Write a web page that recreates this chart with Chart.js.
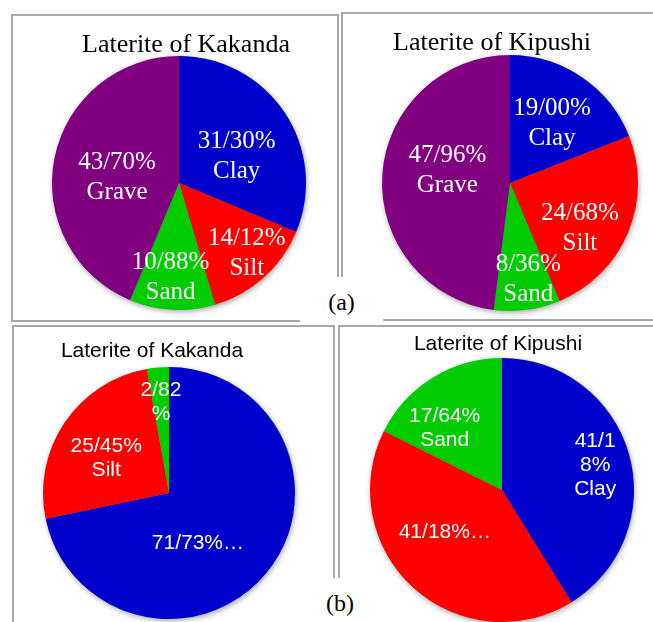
<!DOCTYPE html>
<html>
<head>
<meta charset="utf-8">
<script src="https://cdn.jsdelivr.net/npm/chart.js@4"></script>
<style>
  html, body { margin: 0; padding: 0; background: #fff; }
  body { width: 653px; height: 622px; position: relative; overflow: hidden; }
  .box { position: absolute; box-sizing: border-box; border: 2px solid #a8a8a8; }
  .tag { position: absolute; background: #fff; font-family: "Liberation Serif", serif; font-size: 24px; line-height: 24px; text-align: center; }
  .title { position: absolute; white-space: nowrap; transform: translateX(-50%); color: #000; }
  .serif { font-family: "Liberation Serif", serif; font-size: 26px; line-height: 26px; }
  .sans { font-family: "Liberation Sans", Arial, sans-serif; font-size: 21px; line-height: 21px; }
  canvas { position: absolute; }
</style>
</head>
<body>
<div class="box" style="left:11px;top:14px;width:328px;height:308px"></div>
<div class="box" style="left:341px;top:12px;width:330px;height:309px"></div>
<div class="tag" style="left:300px;top:277px;width:83px;height:46px;line-height:50px">(a)</div>
<div class="box" style="left:12px;top:325px;width:323px;height:310px"></div>
<div class="box" style="left:338px;top:325px;width:330px;height:310px"></div>
<div class="tag" style="left:300px;top:578px;width:80px;height:44px;line-height:50px">(b)</div>

<canvas id="kakandaA"></canvas>
<canvas id="kipushiA"></canvas>
<canvas id="kakandaB"></canvas>
<canvas id="kipushiB"></canvas>

<div class="title serif" style="left:186px;top:31px">Laterite of Kakanda</div>
<div class="title serif" style="left:492px;top:29px">Laterite of Kipushi</div>
<div class="title sans" style="left:152px;top:339px">Laterite of Kakanda</div>
<div class="title sans" style="left:498px;top:332px">Laterite of Kipushi</div>

<script>
// (a) fractions, clockwise from 12 o'clock
const categoriesA = ['Clay', 'Silt', 'Sand', 'Grave'];
const kakandaA = [31.30, 14.12, 10.88, 43.70];
const kipushiA = [19.00, 24.68, 8.36, 47.96];
const kakandaALabels = [['31/30%', 'Clay'], ['14/12%', 'Silt'], ['10/88%', 'Sand'], ['43/70%', 'Grave']];
const kipushiALabels = [['19/00%', 'Clay'], ['24/68%', 'Silt'], ['8/36%', 'Sand'], ['47/96%', 'Grave']];

// (b) fractions
const categoriesB = ['Clay', 'Silt', 'Sand'];
const kakandaB = [71.73, 25.45, 2.82];
const kipushiB = [41.18, 41.18, 17.64];
const kakandaBLabels = [['71/73%…'], ['25/45%', 'Silt'], ['2/82', '%']];
const kipushiBLabels = [['41/1', '8%', 'Clay'], ['41/18%…'], ['17/64%', 'Sand']];

const colorsA = ['#0000cc', '#ff0000', '#00cc00', '#800080'];
const colorsB = ['#0000cc', '#ff0000', '#00cc00'];

// shadow under the whole pie
const pieShadow = {
  id: 'pieShadow',
  beforeDatasetsDraw(chart) {
    const arc = chart.getDatasetMeta(0).data[0];
    if (!arc) return;
    const ctx = chart.ctx;
    ctx.save();
    ctx.shadowColor = 'rgba(0,0,0,0.45)';
    ctx.shadowBlur = 6;
    ctx.shadowOffsetX = 1;
    ctx.shadowOffsetY = 2;
    ctx.fillStyle = '#888';
    ctx.beginPath();
    ctx.arc(arc.x, arc.y, arc.outerRadius - 1, 0, Math.PI * 2);
    ctx.fill();
    ctx.restore();
  }
};

// white slice labels, placed along each slice's mid angle
const sliceLabels = {
  id: 'sliceLabels',
  afterDatasetsDraw(chart, args, opts) {
    const ctx = chart.ctx;
    const arcs = chart.getDatasetMeta(0).data;
    ctx.save();
    ctx.fillStyle = '#fff';
    ctx.font = opts.font;
    ctx.textAlign = 'center';
    ctx.textBaseline = 'middle';
    arcs.forEach((arc, i) => {
      const lines = opts.text[i];
      const pos = opts.place[i];
      const ang = (arc.startAngle + arc.endAngle) / 2 + pos[1] * Math.PI / 180;
      const r = arc.outerRadius * pos[0];
      const x = arc.x + Math.cos(ang) * r;
      const y = arc.y + Math.sin(ang) * r;
      lines.forEach((t, j) => {
        ctx.fillText(t, x, y + (j - (lines.length - 1) / 2) * opts.lineHeight);
      });
    });
    ctx.restore();
  }
};

function makePie(id, cx, cy, radius, labels, values, colors, text, place, font, lineHeight) {
  const pad = 8;
  const canvas = document.getElementById(id);
  const size = radius * 2 + pad * 2;
  canvas.width = size;
  canvas.height = size;
  canvas.style.left = (cx - radius - pad) + 'px';
  canvas.style.top = (cy - radius - pad) + 'px';
  return new Chart(canvas.getContext('2d'), {
    type: 'pie',
    data: {
      labels: labels,
      datasets: [{
        data: values,
        backgroundColor: colors,
        borderWidth: 0,
      }],
    },
    options: {
      responsive: false,
      animation: false,
      events: [],
      layout: { padding: pad },
      plugins: {
        legend: { display: false },
        tooltip: { enabled: false },
        sliceLabels: { text: text, place: place, font: font, lineHeight: lineHeight },
      },
    },
    plugins: [pieShadow, sliceLabels],
  });
}

const serifFont = '25px "Liberation Serif", serif';
const sansFont = '21px "Liberation Sans", Arial, sans-serif';

makePie('kakandaA', 179, 183, 127, categoriesA, kakandaA, colorsA, kakandaALabels,
  [[0.50, 9], [0.77, -2], [0.75, 2], [0.49, -6]], serifFont, 30);
makePie('kipushiA', 510, 183, 128, categoriesA, kipushiA, colorsA, kipushiALabels,
  [[0.57, 1], [0.65, 10], [0.77, -3], [0.50, 8]], serifFont, 30);
makePie('kakandaB', 169, 493, 126, categoriesB, kakandaB, colorsB, kakandaBLabels,
  [[0.46, 21], [0.57, -5], [0.72, 0]], sansFont, 24);
makePie('kipushiB', 502, 490, 132, categoriesB, kipushiB, colorsB, kipushiBLabels,
  [[0.73, 1], [0.54, 11], [0.64, -11]], sansFont, 24);
</script>
</body>
</html>
